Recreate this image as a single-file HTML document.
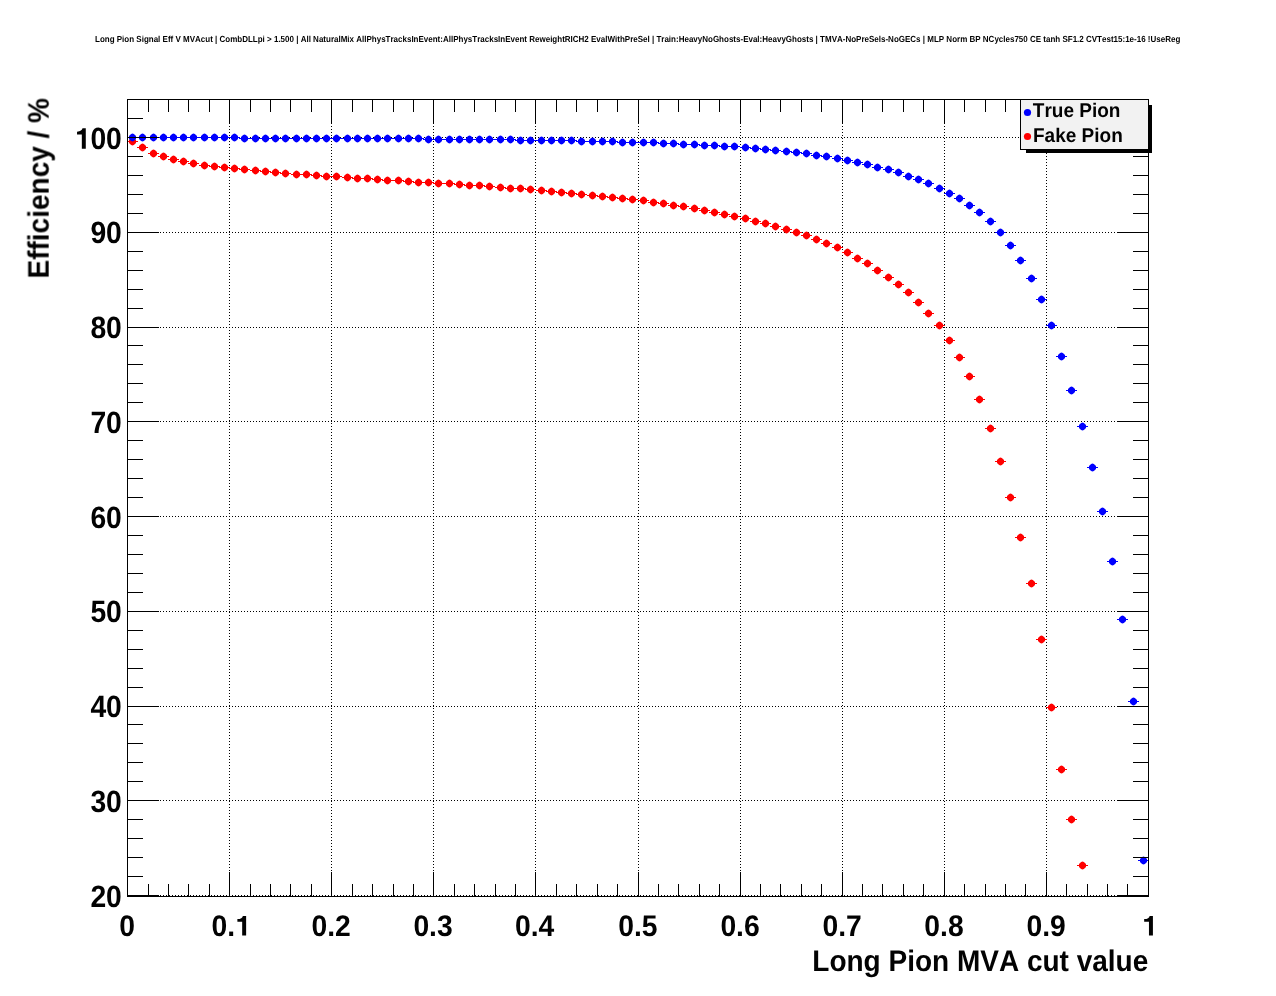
<!DOCTYPE html>
<html><head><meta charset="utf-8"><title>Long Pion Signal Eff V MVAcut</title>
<style>html,body{margin:0;padding:0;background:#fff;}body{width:1276px;height:996px;overflow:hidden;}svg{display:block;}text{text-rendering:geometricPrecision;}text{font-family:"Liberation Sans",sans-serif;font-weight:bold;fill:#000;font-kerning:none;font-variant-ligatures:none;}</style></head><body>
<svg width="1276" height="996" viewBox="0 0 1276 996">
<rect x="0" y="0" width="1276" height="996" fill="#fff"/>
<g stroke="#000" stroke-width="1" shape-rendering="crispEdges" fill="none" stroke-dasharray="1 2">
<line x1="229.5" y1="98.5" x2="229.5" y2="896.5"/>
<line x1="331.5" y1="98.5" x2="331.5" y2="896.5"/>
<line x1="433.5" y1="98.5" x2="433.5" y2="896.5"/>
<line x1="535.5" y1="98.5" x2="535.5" y2="896.5"/>
<line x1="638.5" y1="98.5" x2="638.5" y2="896.5"/>
<line x1="740.5" y1="98.5" x2="740.5" y2="896.5"/>
<line x1="842.5" y1="98.5" x2="842.5" y2="896.5"/>
<line x1="944.5" y1="98.5" x2="944.5" y2="896.5"/>
<line x1="1046.5" y1="98.5" x2="1046.5" y2="896.5"/>
<line x1="126.5" y1="895.5" x2="1148.5" y2="895.5"/>
<line x1="126.5" y1="800.5" x2="1148.5" y2="800.5"/>
<line x1="126.5" y1="706.5" x2="1148.5" y2="706.5"/>
<line x1="126.5" y1="611.5" x2="1148.5" y2="611.5"/>
<line x1="126.5" y1="516.5" x2="1148.5" y2="516.5"/>
<line x1="126.5" y1="421.5" x2="1148.5" y2="421.5"/>
<line x1="126.5" y1="327.5" x2="1148.5" y2="327.5"/>
<line x1="126.5" y1="232.5" x2="1148.5" y2="232.5"/>
<line x1="126.5" y1="137.5" x2="1148.5" y2="137.5"/>
</g>
<defs><path id="m" d="M-3.5,-1.5L-1.4,-3.6L0,-3.9L1.4,-3.6L3.5,-1.5L3.5,1.5L1.4,3.6L0,3.9L-1.4,3.6L-3.5,1.5Z"/></defs>
<g fill="#ff0000" stroke="#ff0000" stroke-width="1">
<path shape-rendering="crispEdges" fill="none" d="M127.0 141.5H138.0M137.0 147.5H148.0M148.0 153.5H159.0M158.0 156.5H169.0M168.0 159.5H179.0M178.0 161.5H189.0M188.0 163.5H199.0M199.0 165.5H210.0M209.0 166.5H220.0M219.0 167.5H230.0M229.0 168.5H240.0M239.0 169.5H250.0M250.0 170.5H261.0M260.0 171.5H271.0M270.0 172.5H281.0M280.0 173.5H291.0M291.0 174.5H302.0M301.0 174.5H312.0M311.0 175.5H322.0M321.0 176.5H332.0M331.0 176.5H342.0M342.0 177.5H353.0M352.0 178.5H363.0M362.0 178.5H373.0M372.0 179.5H383.0M382.0 180.5H393.0M393.0 180.5H404.0M403.0 181.5H414.0M413.0 182.5H424.0M423.0 182.5H434.0M433.0 183.5H444.0M444.0 183.5H455.0M454.0 184.5H465.0M464.0 185.5H475.0M474.0 185.5H485.0M484.0 186.5H495.0M495.0 187.5H506.0M505.0 188.5H516.0M515.0 188.5H526.0M525.0 189.5H536.0M536.0 190.5H547.0M546.0 191.5H557.0M556.0 192.5H567.0M566.0 193.5H577.0M576.0 194.5H587.0M587.0 195.5H598.0M597.0 196.5H608.0M607.0 197.5H618.0M617.0 198.5H628.0M627.0 199.5H638.0M638.0 200.5H649.0M648.0 202.5H659.0M658.0 203.5H669.0M668.0 205.5H679.0M678.0 206.5H689.0M689.0 208.5H700.0M699.0 210.5H710.0M709.0 212.5H720.0M719.0 214.5H730.0M729.0 216.5H740.0M740.0 218.5H751.0M750.0 221.5H761.0M760.0 223.5H771.0M770.0 226.5H781.0M781.0 229.5H792.0M791.0 232.5H802.0M801.0 235.5H812.0M811.0 239.5H822.0M821.0 243.5H832.0M832.0 247.5H843.0M842.0 252.5H853.0M852.0 258.5H863.0M862.0 263.5H873.0M872.0 270.5H883.0M883.0 277.5H894.0M893.0 284.5H904.0M903.0 292.5H914.0M913.0 302.5H924.0M923.0 313.5H934.0M934.0 325.5H945.0M944.0 340.5H955.0M954.0 357.5H965.0M964.0 376.5H975.0M974.0 399.5H985.0M985.0 428.5H996.0M995.0 461.5H1006.0M1005.0 497.5H1016.0M1015.0 537.5H1026.0M1026.0 583.5H1037.0M1036.0 639.5H1047.0M1046.0 707.5H1057.0M1056.0 769.5H1067.0M1066.0 819.5H1077.0M1077.0 865.5H1088.0"/>
<use href="#m" stroke="none" x="132.5" y="141.5"/>
<use href="#m" stroke="none" x="142.5" y="147.5"/>
<use href="#m" stroke="none" x="153.5" y="153.5"/>
<use href="#m" stroke="none" x="163.5" y="156.5"/>
<use href="#m" stroke="none" x="173.5" y="159.5"/>
<use href="#m" stroke="none" x="183.5" y="161.5"/>
<use href="#m" stroke="none" x="193.5" y="163.5"/>
<use href="#m" stroke="none" x="204.5" y="165.5"/>
<use href="#m" stroke="none" x="214.5" y="166.5"/>
<use href="#m" stroke="none" x="224.5" y="167.5"/>
<use href="#m" stroke="none" x="234.5" y="168.5"/>
<use href="#m" stroke="none" x="244.5" y="169.5"/>
<use href="#m" stroke="none" x="255.5" y="170.5"/>
<use href="#m" stroke="none" x="265.5" y="171.5"/>
<use href="#m" stroke="none" x="275.5" y="172.5"/>
<use href="#m" stroke="none" x="285.5" y="173.5"/>
<use href="#m" stroke="none" x="296.5" y="174.5"/>
<use href="#m" stroke="none" x="306.5" y="174.5"/>
<use href="#m" stroke="none" x="316.5" y="175.5"/>
<use href="#m" stroke="none" x="326.5" y="176.5"/>
<use href="#m" stroke="none" x="336.5" y="176.5"/>
<use href="#m" stroke="none" x="347.5" y="177.5"/>
<use href="#m" stroke="none" x="357.5" y="178.5"/>
<use href="#m" stroke="none" x="367.5" y="178.5"/>
<use href="#m" stroke="none" x="377.5" y="179.5"/>
<use href="#m" stroke="none" x="387.5" y="180.5"/>
<use href="#m" stroke="none" x="398.5" y="180.5"/>
<use href="#m" stroke="none" x="408.5" y="181.5"/>
<use href="#m" stroke="none" x="418.5" y="182.5"/>
<use href="#m" stroke="none" x="428.5" y="182.5"/>
<use href="#m" stroke="none" x="438.5" y="183.5"/>
<use href="#m" stroke="none" x="449.5" y="183.5"/>
<use href="#m" stroke="none" x="459.5" y="184.5"/>
<use href="#m" stroke="none" x="469.5" y="185.5"/>
<use href="#m" stroke="none" x="479.5" y="185.5"/>
<use href="#m" stroke="none" x="489.5" y="186.5"/>
<use href="#m" stroke="none" x="500.5" y="187.5"/>
<use href="#m" stroke="none" x="510.5" y="188.5"/>
<use href="#m" stroke="none" x="520.5" y="188.5"/>
<use href="#m" stroke="none" x="530.5" y="189.5"/>
<use href="#m" stroke="none" x="541.5" y="190.5"/>
<use href="#m" stroke="none" x="551.5" y="191.5"/>
<use href="#m" stroke="none" x="561.5" y="192.5"/>
<use href="#m" stroke="none" x="571.5" y="193.5"/>
<use href="#m" stroke="none" x="581.5" y="194.5"/>
<use href="#m" stroke="none" x="592.5" y="195.5"/>
<use href="#m" stroke="none" x="602.5" y="196.5"/>
<use href="#m" stroke="none" x="612.5" y="197.5"/>
<use href="#m" stroke="none" x="622.5" y="198.5"/>
<use href="#m" stroke="none" x="632.5" y="199.5"/>
<use href="#m" stroke="none" x="643.5" y="200.5"/>
<use href="#m" stroke="none" x="653.5" y="202.5"/>
<use href="#m" stroke="none" x="663.5" y="203.5"/>
<use href="#m" stroke="none" x="673.5" y="205.5"/>
<use href="#m" stroke="none" x="683.5" y="206.5"/>
<use href="#m" stroke="none" x="694.5" y="208.5"/>
<use href="#m" stroke="none" x="704.5" y="210.5"/>
<use href="#m" stroke="none" x="714.5" y="212.5"/>
<use href="#m" stroke="none" x="724.5" y="214.5"/>
<use href="#m" stroke="none" x="734.5" y="216.5"/>
<use href="#m" stroke="none" x="745.5" y="218.5"/>
<use href="#m" stroke="none" x="755.5" y="221.5"/>
<use href="#m" stroke="none" x="765.5" y="223.5"/>
<use href="#m" stroke="none" x="775.5" y="226.5"/>
<use href="#m" stroke="none" x="786.5" y="229.5"/>
<use href="#m" stroke="none" x="796.5" y="232.5"/>
<use href="#m" stroke="none" x="806.5" y="235.5"/>
<use href="#m" stroke="none" x="816.5" y="239.5"/>
<use href="#m" stroke="none" x="826.5" y="243.5"/>
<use href="#m" stroke="none" x="837.5" y="247.5"/>
<use href="#m" stroke="none" x="847.5" y="252.5"/>
<use href="#m" stroke="none" x="857.5" y="258.5"/>
<use href="#m" stroke="none" x="867.5" y="263.5"/>
<use href="#m" stroke="none" x="877.5" y="270.5"/>
<use href="#m" stroke="none" x="888.5" y="277.5"/>
<use href="#m" stroke="none" x="898.5" y="284.5"/>
<use href="#m" stroke="none" x="908.5" y="292.5"/>
<use href="#m" stroke="none" x="918.5" y="302.5"/>
<use href="#m" stroke="none" x="928.5" y="313.5"/>
<use href="#m" stroke="none" x="939.5" y="325.5"/>
<use href="#m" stroke="none" x="949.5" y="340.5"/>
<use href="#m" stroke="none" x="959.5" y="357.5"/>
<use href="#m" stroke="none" x="969.5" y="376.5"/>
<use href="#m" stroke="none" x="979.5" y="399.5"/>
<use href="#m" stroke="none" x="990.5" y="428.5"/>
<use href="#m" stroke="none" x="1000.5" y="461.5"/>
<use href="#m" stroke="none" x="1010.5" y="497.5"/>
<use href="#m" stroke="none" x="1020.5" y="537.5"/>
<use href="#m" stroke="none" x="1031.5" y="583.5"/>
<use href="#m" stroke="none" x="1041.5" y="639.5"/>
<use href="#m" stroke="none" x="1051.5" y="707.5"/>
<use href="#m" stroke="none" x="1061.5" y="769.5"/>
<use href="#m" stroke="none" x="1071.5" y="819.5"/>
<use href="#m" stroke="none" x="1082.5" y="865.5"/>
</g>
<g fill="#0000ff" stroke="#0000ff" stroke-width="1">
<path shape-rendering="crispEdges" fill="none" d="M127.0 137.5H138.0M137.0 137.5H148.0M148.0 137.5H159.0M158.0 137.5H169.0M168.0 137.5H179.0M178.0 137.5H189.0M188.0 137.5H199.0M199.0 137.5H210.0M209.0 137.5H220.0M219.0 137.5H230.0M229.0 137.5H240.0M239.0 138.5H250.0M250.0 138.5H261.0M260.0 138.5H271.0M270.0 138.5H281.0M280.0 138.5H291.0M291.0 138.5H302.0M301.0 138.5H312.0M311.0 138.5H322.0M321.0 138.5H332.0M331.0 138.5H342.0M342.0 138.5H353.0M352.0 138.5H363.0M362.0 138.5H373.0M372.0 138.5H383.0M382.0 138.5H393.0M393.0 138.5H404.0M403.0 138.5H414.0M413.0 138.5H424.0M423.0 139.5H434.0M433.0 139.5H444.0M444.0 139.5H455.0M454.0 139.5H465.0M464.0 139.5H475.0M474.0 139.5H485.0M484.0 139.5H495.0M495.0 139.5H506.0M505.0 139.5H516.0M515.0 140.5H526.0M525.0 140.5H536.0M536.0 140.5H547.0M546.0 140.5H557.0M556.0 140.5H567.0M566.0 140.5H577.0M576.0 141.5H587.0M587.0 141.5H598.0M597.0 141.5H608.0M607.0 141.5H618.0M617.0 142.5H628.0M627.0 142.5H638.0M638.0 142.5H649.0M648.0 142.5H659.0M658.0 143.5H669.0M668.0 143.5H679.0M678.0 144.5H689.0M689.0 144.5H700.0M699.0 145.5H710.0M709.0 145.5H720.0M719.0 146.5H730.0M729.0 146.5H740.0M740.0 147.5H751.0M750.0 148.5H761.0M760.0 149.5H771.0M770.0 150.5H781.0M781.0 151.5H792.0M791.0 152.5H802.0M801.0 153.5H812.0M811.0 155.5H822.0M821.0 156.5H832.0M832.0 158.5H843.0M842.0 160.5H853.0M852.0 162.5H863.0M862.0 164.5H873.0M872.0 167.5H883.0M883.0 169.5H894.0M893.0 172.5H904.0M903.0 176.5H914.0M913.0 179.5H924.0M923.0 183.5H934.0M934.0 188.5H945.0M944.0 193.5H955.0M954.0 198.5H965.0M964.0 205.5H975.0M974.0 212.5H985.0M985.0 221.5H996.0M995.0 232.5H1006.0M1005.0 245.5H1016.0M1015.0 260.5H1026.0M1026.0 278.5H1037.0M1036.0 299.5H1047.0M1046.0 325.5H1057.0M1056.0 356.5H1067.0M1066.0 390.5H1077.0M1077.0 426.5H1088.0M1087.0 467.5H1098.0M1097.0 511.5H1108.0M1107.0 561.5H1118.0M1117.0 619.5H1128.0M1128.0 701.5H1139.0M1138.0 860.5H1148.5"/>
<use href="#m" stroke="none" x="132.5" y="137.5"/>
<use href="#m" stroke="none" x="142.5" y="137.5"/>
<use href="#m" stroke="none" x="153.5" y="137.5"/>
<use href="#m" stroke="none" x="163.5" y="137.5"/>
<use href="#m" stroke="none" x="173.5" y="137.5"/>
<use href="#m" stroke="none" x="183.5" y="137.5"/>
<use href="#m" stroke="none" x="193.5" y="137.5"/>
<use href="#m" stroke="none" x="204.5" y="137.5"/>
<use href="#m" stroke="none" x="214.5" y="137.5"/>
<use href="#m" stroke="none" x="224.5" y="137.5"/>
<use href="#m" stroke="none" x="234.5" y="137.5"/>
<use href="#m" stroke="none" x="244.5" y="138.5"/>
<use href="#m" stroke="none" x="255.5" y="138.5"/>
<use href="#m" stroke="none" x="265.5" y="138.5"/>
<use href="#m" stroke="none" x="275.5" y="138.5"/>
<use href="#m" stroke="none" x="285.5" y="138.5"/>
<use href="#m" stroke="none" x="296.5" y="138.5"/>
<use href="#m" stroke="none" x="306.5" y="138.5"/>
<use href="#m" stroke="none" x="316.5" y="138.5"/>
<use href="#m" stroke="none" x="326.5" y="138.5"/>
<use href="#m" stroke="none" x="336.5" y="138.5"/>
<use href="#m" stroke="none" x="347.5" y="138.5"/>
<use href="#m" stroke="none" x="357.5" y="138.5"/>
<use href="#m" stroke="none" x="367.5" y="138.5"/>
<use href="#m" stroke="none" x="377.5" y="138.5"/>
<use href="#m" stroke="none" x="387.5" y="138.5"/>
<use href="#m" stroke="none" x="398.5" y="138.5"/>
<use href="#m" stroke="none" x="408.5" y="138.5"/>
<use href="#m" stroke="none" x="418.5" y="138.5"/>
<use href="#m" stroke="none" x="428.5" y="139.5"/>
<use href="#m" stroke="none" x="438.5" y="139.5"/>
<use href="#m" stroke="none" x="449.5" y="139.5"/>
<use href="#m" stroke="none" x="459.5" y="139.5"/>
<use href="#m" stroke="none" x="469.5" y="139.5"/>
<use href="#m" stroke="none" x="479.5" y="139.5"/>
<use href="#m" stroke="none" x="489.5" y="139.5"/>
<use href="#m" stroke="none" x="500.5" y="139.5"/>
<use href="#m" stroke="none" x="510.5" y="139.5"/>
<use href="#m" stroke="none" x="520.5" y="140.5"/>
<use href="#m" stroke="none" x="530.5" y="140.5"/>
<use href="#m" stroke="none" x="541.5" y="140.5"/>
<use href="#m" stroke="none" x="551.5" y="140.5"/>
<use href="#m" stroke="none" x="561.5" y="140.5"/>
<use href="#m" stroke="none" x="571.5" y="140.5"/>
<use href="#m" stroke="none" x="581.5" y="141.5"/>
<use href="#m" stroke="none" x="592.5" y="141.5"/>
<use href="#m" stroke="none" x="602.5" y="141.5"/>
<use href="#m" stroke="none" x="612.5" y="141.5"/>
<use href="#m" stroke="none" x="622.5" y="142.5"/>
<use href="#m" stroke="none" x="632.5" y="142.5"/>
<use href="#m" stroke="none" x="643.5" y="142.5"/>
<use href="#m" stroke="none" x="653.5" y="142.5"/>
<use href="#m" stroke="none" x="663.5" y="143.5"/>
<use href="#m" stroke="none" x="673.5" y="143.5"/>
<use href="#m" stroke="none" x="683.5" y="144.5"/>
<use href="#m" stroke="none" x="694.5" y="144.5"/>
<use href="#m" stroke="none" x="704.5" y="145.5"/>
<use href="#m" stroke="none" x="714.5" y="145.5"/>
<use href="#m" stroke="none" x="724.5" y="146.5"/>
<use href="#m" stroke="none" x="734.5" y="146.5"/>
<use href="#m" stroke="none" x="745.5" y="147.5"/>
<use href="#m" stroke="none" x="755.5" y="148.5"/>
<use href="#m" stroke="none" x="765.5" y="149.5"/>
<use href="#m" stroke="none" x="775.5" y="150.5"/>
<use href="#m" stroke="none" x="786.5" y="151.5"/>
<use href="#m" stroke="none" x="796.5" y="152.5"/>
<use href="#m" stroke="none" x="806.5" y="153.5"/>
<use href="#m" stroke="none" x="816.5" y="155.5"/>
<use href="#m" stroke="none" x="826.5" y="156.5"/>
<use href="#m" stroke="none" x="837.5" y="158.5"/>
<use href="#m" stroke="none" x="847.5" y="160.5"/>
<use href="#m" stroke="none" x="857.5" y="162.5"/>
<use href="#m" stroke="none" x="867.5" y="164.5"/>
<use href="#m" stroke="none" x="877.5" y="167.5"/>
<use href="#m" stroke="none" x="888.5" y="169.5"/>
<use href="#m" stroke="none" x="898.5" y="172.5"/>
<use href="#m" stroke="none" x="908.5" y="176.5"/>
<use href="#m" stroke="none" x="918.5" y="179.5"/>
<use href="#m" stroke="none" x="928.5" y="183.5"/>
<use href="#m" stroke="none" x="939.5" y="188.5"/>
<use href="#m" stroke="none" x="949.5" y="193.5"/>
<use href="#m" stroke="none" x="959.5" y="198.5"/>
<use href="#m" stroke="none" x="969.5" y="205.5"/>
<use href="#m" stroke="none" x="979.5" y="212.5"/>
<use href="#m" stroke="none" x="990.5" y="221.5"/>
<use href="#m" stroke="none" x="1000.5" y="232.5"/>
<use href="#m" stroke="none" x="1010.5" y="245.5"/>
<use href="#m" stroke="none" x="1020.5" y="260.5"/>
<use href="#m" stroke="none" x="1031.5" y="278.5"/>
<use href="#m" stroke="none" x="1041.5" y="299.5"/>
<use href="#m" stroke="none" x="1051.5" y="325.5"/>
<use href="#m" stroke="none" x="1061.5" y="356.5"/>
<use href="#m" stroke="none" x="1071.5" y="390.5"/>
<use href="#m" stroke="none" x="1082.5" y="426.5"/>
<use href="#m" stroke="none" x="1092.5" y="467.5"/>
<use href="#m" stroke="none" x="1102.5" y="511.5"/>
<use href="#m" stroke="none" x="1112.5" y="561.5"/>
<use href="#m" stroke="none" x="1122.5" y="619.5"/>
<use href="#m" stroke="none" x="1133.5" y="701.5"/>
<use href="#m" stroke="none" x="1143.5" y="860.5"/>
</g>
<g stroke="#000" stroke-width="1" shape-rendering="crispEdges" fill="none">
<rect x="127.5" y="99.5" width="1021.0" height="797.0"/>
<line x1="127.5" y1="896.5" x2="127.5" y2="871.5"/>
<line x1="127.5" y1="99.5" x2="127.5" y2="123.5"/>
<line x1="148.5" y1="896.5" x2="148.5" y2="883.5"/>
<line x1="148.5" y1="99.5" x2="148.5" y2="111.5"/>
<line x1="168.5" y1="896.5" x2="168.5" y2="883.5"/>
<line x1="168.5" y1="99.5" x2="168.5" y2="111.5"/>
<line x1="188.5" y1="896.5" x2="188.5" y2="883.5"/>
<line x1="188.5" y1="99.5" x2="188.5" y2="111.5"/>
<line x1="209.5" y1="896.5" x2="209.5" y2="883.5"/>
<line x1="209.5" y1="99.5" x2="209.5" y2="111.5"/>
<line x1="229.5" y1="896.5" x2="229.5" y2="871.5"/>
<line x1="229.5" y1="99.5" x2="229.5" y2="123.5"/>
<line x1="250.5" y1="896.5" x2="250.5" y2="883.5"/>
<line x1="250.5" y1="99.5" x2="250.5" y2="111.5"/>
<line x1="270.5" y1="896.5" x2="270.5" y2="883.5"/>
<line x1="270.5" y1="99.5" x2="270.5" y2="111.5"/>
<line x1="290.5" y1="896.5" x2="290.5" y2="883.5"/>
<line x1="290.5" y1="99.5" x2="290.5" y2="111.5"/>
<line x1="311.5" y1="896.5" x2="311.5" y2="883.5"/>
<line x1="311.5" y1="99.5" x2="311.5" y2="111.5"/>
<line x1="331.5" y1="896.5" x2="331.5" y2="871.5"/>
<line x1="331.5" y1="99.5" x2="331.5" y2="123.5"/>
<line x1="352.5" y1="896.5" x2="352.5" y2="883.5"/>
<line x1="352.5" y1="99.5" x2="352.5" y2="111.5"/>
<line x1="372.5" y1="896.5" x2="372.5" y2="883.5"/>
<line x1="372.5" y1="99.5" x2="372.5" y2="111.5"/>
<line x1="393.5" y1="896.5" x2="393.5" y2="883.5"/>
<line x1="393.5" y1="99.5" x2="393.5" y2="111.5"/>
<line x1="413.5" y1="896.5" x2="413.5" y2="883.5"/>
<line x1="413.5" y1="99.5" x2="413.5" y2="111.5"/>
<line x1="433.5" y1="896.5" x2="433.5" y2="871.5"/>
<line x1="433.5" y1="99.5" x2="433.5" y2="123.5"/>
<line x1="454.5" y1="896.5" x2="454.5" y2="883.5"/>
<line x1="454.5" y1="99.5" x2="454.5" y2="111.5"/>
<line x1="474.5" y1="896.5" x2="474.5" y2="883.5"/>
<line x1="474.5" y1="99.5" x2="474.5" y2="111.5"/>
<line x1="495.5" y1="896.5" x2="495.5" y2="883.5"/>
<line x1="495.5" y1="99.5" x2="495.5" y2="111.5"/>
<line x1="515.5" y1="896.5" x2="515.5" y2="883.5"/>
<line x1="515.5" y1="99.5" x2="515.5" y2="111.5"/>
<line x1="535.5" y1="896.5" x2="535.5" y2="871.5"/>
<line x1="535.5" y1="99.5" x2="535.5" y2="123.5"/>
<line x1="556.5" y1="896.5" x2="556.5" y2="883.5"/>
<line x1="556.5" y1="99.5" x2="556.5" y2="111.5"/>
<line x1="576.5" y1="896.5" x2="576.5" y2="883.5"/>
<line x1="576.5" y1="99.5" x2="576.5" y2="111.5"/>
<line x1="597.5" y1="896.5" x2="597.5" y2="883.5"/>
<line x1="597.5" y1="99.5" x2="597.5" y2="111.5"/>
<line x1="617.5" y1="896.5" x2="617.5" y2="883.5"/>
<line x1="617.5" y1="99.5" x2="617.5" y2="111.5"/>
<line x1="638.5" y1="896.5" x2="638.5" y2="871.5"/>
<line x1="638.5" y1="99.5" x2="638.5" y2="123.5"/>
<line x1="658.5" y1="896.5" x2="658.5" y2="883.5"/>
<line x1="658.5" y1="99.5" x2="658.5" y2="111.5"/>
<line x1="678.5" y1="896.5" x2="678.5" y2="883.5"/>
<line x1="678.5" y1="99.5" x2="678.5" y2="111.5"/>
<line x1="699.5" y1="896.5" x2="699.5" y2="883.5"/>
<line x1="699.5" y1="99.5" x2="699.5" y2="111.5"/>
<line x1="719.5" y1="896.5" x2="719.5" y2="883.5"/>
<line x1="719.5" y1="99.5" x2="719.5" y2="111.5"/>
<line x1="740.5" y1="896.5" x2="740.5" y2="871.5"/>
<line x1="740.5" y1="99.5" x2="740.5" y2="123.5"/>
<line x1="760.5" y1="896.5" x2="760.5" y2="883.5"/>
<line x1="760.5" y1="99.5" x2="760.5" y2="111.5"/>
<line x1="780.5" y1="896.5" x2="780.5" y2="883.5"/>
<line x1="780.5" y1="99.5" x2="780.5" y2="111.5"/>
<line x1="801.5" y1="896.5" x2="801.5" y2="883.5"/>
<line x1="801.5" y1="99.5" x2="801.5" y2="111.5"/>
<line x1="821.5" y1="896.5" x2="821.5" y2="883.5"/>
<line x1="821.5" y1="99.5" x2="821.5" y2="111.5"/>
<line x1="842.5" y1="896.5" x2="842.5" y2="871.5"/>
<line x1="842.5" y1="99.5" x2="842.5" y2="123.5"/>
<line x1="862.5" y1="896.5" x2="862.5" y2="883.5"/>
<line x1="862.5" y1="99.5" x2="862.5" y2="111.5"/>
<line x1="882.5" y1="896.5" x2="882.5" y2="883.5"/>
<line x1="882.5" y1="99.5" x2="882.5" y2="111.5"/>
<line x1="903.5" y1="896.5" x2="903.5" y2="883.5"/>
<line x1="903.5" y1="99.5" x2="903.5" y2="111.5"/>
<line x1="923.5" y1="896.5" x2="923.5" y2="883.5"/>
<line x1="923.5" y1="99.5" x2="923.5" y2="111.5"/>
<line x1="944.5" y1="896.5" x2="944.5" y2="871.5"/>
<line x1="944.5" y1="99.5" x2="944.5" y2="123.5"/>
<line x1="964.5" y1="896.5" x2="964.5" y2="883.5"/>
<line x1="964.5" y1="99.5" x2="964.5" y2="111.5"/>
<line x1="985.5" y1="896.5" x2="985.5" y2="883.5"/>
<line x1="985.5" y1="99.5" x2="985.5" y2="111.5"/>
<line x1="1005.5" y1="896.5" x2="1005.5" y2="883.5"/>
<line x1="1005.5" y1="99.5" x2="1005.5" y2="111.5"/>
<line x1="1025.5" y1="896.5" x2="1025.5" y2="883.5"/>
<line x1="1025.5" y1="99.5" x2="1025.5" y2="111.5"/>
<line x1="1046.5" y1="896.5" x2="1046.5" y2="871.5"/>
<line x1="1046.5" y1="99.5" x2="1046.5" y2="123.5"/>
<line x1="1066.5" y1="896.5" x2="1066.5" y2="883.5"/>
<line x1="1066.5" y1="99.5" x2="1066.5" y2="111.5"/>
<line x1="1087.5" y1="896.5" x2="1087.5" y2="883.5"/>
<line x1="1087.5" y1="99.5" x2="1087.5" y2="111.5"/>
<line x1="1107.5" y1="896.5" x2="1107.5" y2="883.5"/>
<line x1="1107.5" y1="99.5" x2="1107.5" y2="111.5"/>
<line x1="1127.5" y1="896.5" x2="1127.5" y2="883.5"/>
<line x1="1127.5" y1="99.5" x2="1127.5" y2="111.5"/>
<line x1="1148.5" y1="896.5" x2="1148.5" y2="871.5"/>
<line x1="1148.5" y1="99.5" x2="1148.5" y2="123.5"/>
<line x1="127.5" y1="895.5" x2="158.5" y2="895.5"/>
<line x1="1148.5" y1="895.5" x2="1116.5" y2="895.5"/>
<line x1="127.5" y1="876.5" x2="142.5" y2="876.5"/>
<line x1="1148.5" y1="876.5" x2="1132.5" y2="876.5"/>
<line x1="127.5" y1="857.5" x2="142.5" y2="857.5"/>
<line x1="1148.5" y1="857.5" x2="1132.5" y2="857.5"/>
<line x1="127.5" y1="838.5" x2="142.5" y2="838.5"/>
<line x1="1148.5" y1="838.5" x2="1132.5" y2="838.5"/>
<line x1="127.5" y1="819.5" x2="142.5" y2="819.5"/>
<line x1="1148.5" y1="819.5" x2="1132.5" y2="819.5"/>
<line x1="127.5" y1="800.5" x2="158.5" y2="800.5"/>
<line x1="1148.5" y1="800.5" x2="1116.5" y2="800.5"/>
<line x1="127.5" y1="781.5" x2="142.5" y2="781.5"/>
<line x1="1148.5" y1="781.5" x2="1132.5" y2="781.5"/>
<line x1="127.5" y1="762.5" x2="142.5" y2="762.5"/>
<line x1="1148.5" y1="762.5" x2="1132.5" y2="762.5"/>
<line x1="127.5" y1="743.5" x2="142.5" y2="743.5"/>
<line x1="1148.5" y1="743.5" x2="1132.5" y2="743.5"/>
<line x1="127.5" y1="724.5" x2="142.5" y2="724.5"/>
<line x1="1148.5" y1="724.5" x2="1132.5" y2="724.5"/>
<line x1="127.5" y1="706.5" x2="158.5" y2="706.5"/>
<line x1="1148.5" y1="706.5" x2="1116.5" y2="706.5"/>
<line x1="127.5" y1="687.5" x2="142.5" y2="687.5"/>
<line x1="1148.5" y1="687.5" x2="1132.5" y2="687.5"/>
<line x1="127.5" y1="668.5" x2="142.5" y2="668.5"/>
<line x1="1148.5" y1="668.5" x2="1132.5" y2="668.5"/>
<line x1="127.5" y1="649.5" x2="142.5" y2="649.5"/>
<line x1="1148.5" y1="649.5" x2="1132.5" y2="649.5"/>
<line x1="127.5" y1="630.5" x2="142.5" y2="630.5"/>
<line x1="1148.5" y1="630.5" x2="1132.5" y2="630.5"/>
<line x1="127.5" y1="611.5" x2="158.5" y2="611.5"/>
<line x1="1148.5" y1="611.5" x2="1116.5" y2="611.5"/>
<line x1="127.5" y1="592.5" x2="142.5" y2="592.5"/>
<line x1="1148.5" y1="592.5" x2="1132.5" y2="592.5"/>
<line x1="127.5" y1="573.5" x2="142.5" y2="573.5"/>
<line x1="1148.5" y1="573.5" x2="1132.5" y2="573.5"/>
<line x1="127.5" y1="554.5" x2="142.5" y2="554.5"/>
<line x1="1148.5" y1="554.5" x2="1132.5" y2="554.5"/>
<line x1="127.5" y1="535.5" x2="142.5" y2="535.5"/>
<line x1="1148.5" y1="535.5" x2="1132.5" y2="535.5"/>
<line x1="127.5" y1="516.5" x2="158.5" y2="516.5"/>
<line x1="1148.5" y1="516.5" x2="1116.5" y2="516.5"/>
<line x1="127.5" y1="497.5" x2="142.5" y2="497.5"/>
<line x1="1148.5" y1="497.5" x2="1132.5" y2="497.5"/>
<line x1="127.5" y1="478.5" x2="142.5" y2="478.5"/>
<line x1="1148.5" y1="478.5" x2="1132.5" y2="478.5"/>
<line x1="127.5" y1="459.5" x2="142.5" y2="459.5"/>
<line x1="1148.5" y1="459.5" x2="1132.5" y2="459.5"/>
<line x1="127.5" y1="440.5" x2="142.5" y2="440.5"/>
<line x1="1148.5" y1="440.5" x2="1132.5" y2="440.5"/>
<line x1="127.5" y1="421.5" x2="158.5" y2="421.5"/>
<line x1="1148.5" y1="421.5" x2="1116.5" y2="421.5"/>
<line x1="127.5" y1="402.5" x2="142.5" y2="402.5"/>
<line x1="1148.5" y1="402.5" x2="1132.5" y2="402.5"/>
<line x1="127.5" y1="383.5" x2="142.5" y2="383.5"/>
<line x1="1148.5" y1="383.5" x2="1132.5" y2="383.5"/>
<line x1="127.5" y1="364.5" x2="142.5" y2="364.5"/>
<line x1="1148.5" y1="364.5" x2="1132.5" y2="364.5"/>
<line x1="127.5" y1="345.5" x2="142.5" y2="345.5"/>
<line x1="1148.5" y1="345.5" x2="1132.5" y2="345.5"/>
<line x1="127.5" y1="327.5" x2="158.5" y2="327.5"/>
<line x1="1148.5" y1="327.5" x2="1116.5" y2="327.5"/>
<line x1="127.5" y1="308.5" x2="142.5" y2="308.5"/>
<line x1="1148.5" y1="308.5" x2="1132.5" y2="308.5"/>
<line x1="127.5" y1="289.5" x2="142.5" y2="289.5"/>
<line x1="1148.5" y1="289.5" x2="1132.5" y2="289.5"/>
<line x1="127.5" y1="270.5" x2="142.5" y2="270.5"/>
<line x1="1148.5" y1="270.5" x2="1132.5" y2="270.5"/>
<line x1="127.5" y1="251.5" x2="142.5" y2="251.5"/>
<line x1="1148.5" y1="251.5" x2="1132.5" y2="251.5"/>
<line x1="127.5" y1="232.5" x2="158.5" y2="232.5"/>
<line x1="1148.5" y1="232.5" x2="1116.5" y2="232.5"/>
<line x1="127.5" y1="213.5" x2="142.5" y2="213.5"/>
<line x1="1148.5" y1="213.5" x2="1132.5" y2="213.5"/>
<line x1="127.5" y1="194.5" x2="142.5" y2="194.5"/>
<line x1="1148.5" y1="194.5" x2="1132.5" y2="194.5"/>
<line x1="127.5" y1="175.5" x2="142.5" y2="175.5"/>
<line x1="1148.5" y1="175.5" x2="1132.5" y2="175.5"/>
<line x1="127.5" y1="156.5" x2="142.5" y2="156.5"/>
<line x1="1148.5" y1="156.5" x2="1132.5" y2="156.5"/>
<line x1="127.5" y1="137.5" x2="158.5" y2="137.5"/>
<line x1="1148.5" y1="137.5" x2="1116.5" y2="137.5"/>
<line x1="127.5" y1="118.5" x2="142.5" y2="118.5"/>
<line x1="1148.5" y1="118.5" x2="1132.5" y2="118.5"/>
</g>
<g shape-rendering="crispEdges">
<rect x="1026" y="105" width="126" height="48" fill="#000"/>
<rect x="1020.5" y="99.5" width="128" height="50" fill="#f2f2f2" stroke="#000" stroke-width="1"/>
</g>
<circle cx="1027.5" cy="112.5" r="3.6" fill="#0000ff"/>
<circle cx="1027.5" cy="136.5" r="3.6" fill="#ff0000"/>
<g opacity="0.996">
<text id="ttl" transform="translate(95.0 42.1) scale(1 1.1)" font-size="8" textLength="1085.3" lengthAdjust="spacingAndGlyphs">Long Pion Signal Eff V MVAcut | CombDLLpi &gt; 1.500 | All NaturalMix AllPhysTracksInEvent:AllPhysTracksInEvent ReweightRICH2 EvalWithPreSel | Train:HeavyNoGhosts-Eval:HeavyGhosts | TMVA-NoPreSels-NoGECs | MLP Norm BP NCycles750 CE tanh SF1.2 CVTest15:1e-16 !UseReg</text>
<text id="lg1" transform="translate(1032.8 116.8) scale(1 1.045)" font-size="19.0">True Pion</text>
<text id="lg2" transform="translate(1033.0 141.7) scale(1 1.045)" font-size="19.0">Fake Pion</text>
<text class="lb" transform="translate(119.25 935.60) scale(1 1.055)" font-size="28.3">0</text>
<text class="lb" transform="translate(211.39 935.60) scale(1 1.055)" font-size="28.3">0.</text>
<path d="M238 0H378V709H262C250 640 190 598 69 594V498H238Z" transform="translate(235.44 935.60) scale(0.02830 -0.02781)"/>
<text class="lb" transform="translate(311.44 935.60) scale(1 1.055)" font-size="28.3">0.2</text>
<text class="lb" transform="translate(413.38 935.60) scale(1 1.055)" font-size="28.3">0.3</text>
<text class="lb" transform="translate(514.94 935.60) scale(1 1.055)" font-size="28.3">0.4</text>
<text class="lb" transform="translate(618.26 935.60) scale(1 1.055)" font-size="28.3">0.5</text>
<text class="lb" transform="translate(720.38 935.60) scale(1 1.055)" font-size="28.3">0.6</text>
<text class="lb" transform="translate(822.49 935.60) scale(1 1.055)" font-size="28.3">0.7</text>
<text class="lb" transform="translate(924.30 935.60) scale(1 1.055)" font-size="28.3">0.8</text>
<text class="lb" transform="translate(1026.39 935.60) scale(1 1.055)" font-size="28.3">0.9</text>
<path d="M238 0H378V709H262C250 640 190 598 69 594V498H238Z" transform="translate(1142.22 935.60) scale(0.02830 -0.02781)"/>
<text class="lb" transform="translate(90.38 906.72) scale(1 1.090)" font-size="28.3">20</text>
<text class="lb" transform="translate(90.38 811.97) scale(1 1.090)" font-size="28.3">30</text>
<text class="lb" transform="translate(90.38 717.22) scale(1 1.090)" font-size="28.3">40</text>
<text class="lb" transform="translate(90.38 622.47) scale(1 1.090)" font-size="28.3">50</text>
<text class="lb" transform="translate(90.38 527.72) scale(1 1.090)" font-size="28.3">60</text>
<text class="lb" transform="translate(90.38 432.97) scale(1 1.090)" font-size="28.3">70</text>
<text class="lb" transform="translate(90.38 338.22) scale(1 1.090)" font-size="28.3">80</text>
<text class="lb" transform="translate(90.38 243.47) scale(1 1.090)" font-size="28.3">90</text>
<path d="M238 0H378V709H262C250 640 190 598 69 594V498H238Z" transform="translate(75.09 148.72) scale(0.02830 -0.02874)"/>
<text class="lb" transform="translate(90.38 148.72) scale(1 1.090)" font-size="28.3">00</text>
<text id="xt" transform="translate(1148.3 970.8) scale(1 1.065)" font-size="28.0" text-anchor="end">Long Pion MVA cut value</text>
<text id="yt" transform="translate(48.3 278.5) rotate(-90) scale(1 1.065)" font-size="28.0">Efficiency / %</text>
</g>
</svg></body></html>
